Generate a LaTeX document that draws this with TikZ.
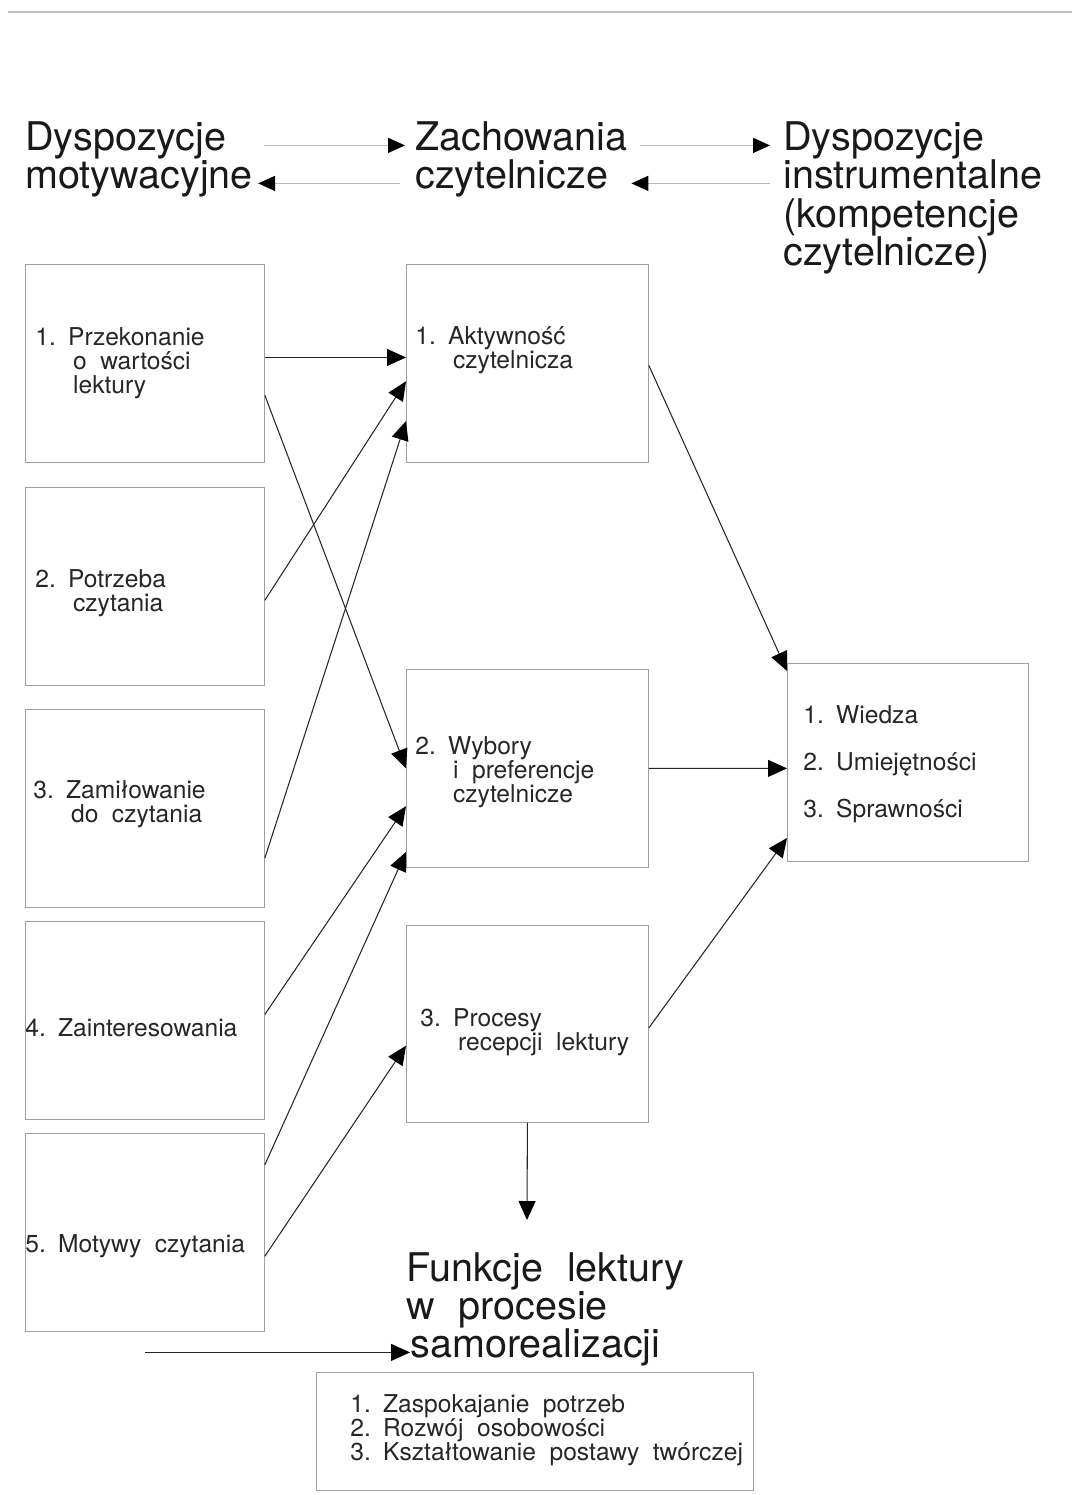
\documentclass[tikz,border=0pt]{standalone}
\usepackage{fontspec}
\setmainfont{TeX Gyre Heros}
\usetikzlibrary{calc}
\usetikzlibrary{arrows.meta}
\newcommand{\hangin}{\hspace*{21.5pt}}
\newcommand{\headfont}{\fontsize{22.5}{22}\selectfont\spaceskip=0.6em\relax}
\newcommand{\itemfont}{\fontsize{14}{13.6}\selectfont\spaceskip=0.55em\relax\lineskiplimit=-20pt\relax}
\tikzset{
    box/.style = {
        draw=gray!75,
        line width=0.5pt,
        anchor=north west,
        minimum height=3.96cm,
        inner sep=0pt,
    },
    leftbox/.style = {
        box,
        minimum width=4.78cm,
    },
    midbox/.style = {
        box,
        minimum width=4.84cm,
    },
    head/.style = {
        font=\headfont,
        anchor=base west,
        inner sep=0pt,
        text=black!90,
    },
    boxtext/.style = {
        font=\itemfont,
        anchor=base west,
        inner sep=0pt,
        align=left,
        text=black!85,
    },
    link/.style = {
        gray!30!black,
        line width=0.6pt,
        -{Triangle[length=3.8mm, width=3.4mm, black]},
    },
    headlink/.style = {
        gray!55,
        line width=0.8pt,
        -{Triangle[length=3.4mm, width=3mm, black]},
    },
}

\begin{document}
\begin{tikzpicture}[x=0.02cm, y=-0.02cm]
  \useasboundingbox (0,0) rectangle (1072,1495);
  \draw[gray!50, line width=0.6pt] (8,12) -- (1072,12);

  % Headings
  \node[head] (dm1) at (25,150) {Dyspozycje};
  \node[head] (dm2) at (25,188) {motywacyjne};
  \node[head] (zc1) at (415,150) {Zachowania};
  \node[head] (zc2) at (415,188) {czytelnicze};
  \node[head] (di1) at (783,150) {Dyspozycje};
  \node[head] (di2) at (783,188) {instrumentalne};
  \node[head] (di3) at (783,227) {(kompetencje};
  \node[head] (di4) at (783,265) {czytelnicze)};

  \draw[headlink] ([xshift=0.74cm]dm1.mid east) -- ([xshift=-0.2cm]zc1.mid west);
  \draw[headlink] ([xshift=-0.3cm]zc2.mid west) -- ([xshift=0.1cm]dm2.mid east);
  \draw[headlink] ([xshift=0.24cm]zc1.mid east) -- ([xshift=-0.26cm]di1.mid west);
  \draw[headlink] ([xshift=-0.26cm]di2.mid west) -- ([xshift=0.46cm]zc2.mid east);

  % Motivational dispositions (text nodes sit on their last line)
  \node[leftbox] (L1) at (25,264) {};
  \node[leftbox] (L2) at (25,487) {};
  \node[leftbox] (L3) at (25,709) {};
  \node[leftbox] (L4) at (25,921) {};
  \node[leftbox] (L5) at (25,1133) {};
  \node[boxtext] (L1t) at (35,393) {1.\hspace{7pt}Przekonanie\\\hangin o wartości\\\hangin lektury};
  \node[boxtext] (L2t) at (35,611) {2.\hspace{7pt}Potrzeba\\\hangin czytania};
  \node[boxtext] (L3t) at (33,822) {3.\hspace{7pt}Zamiłowanie\\\hangin do czytania};
  \node[boxtext] (L4t) at (25,1036) {4.\hspace{7pt}Zainteresowania};
  \node[boxtext] (L5t) at (25,1252) {5.\hspace{7pt}Motywy czytania};

  % Reading behaviour
  \node[midbox] (M1) at (406,264) {};
  \node[midbox] (M2) at (406,669) {};
  \node[midbox, minimum height=3.94cm] (M3) at (406,925) {};
  \node[boxtext] (M1t) at (415,368) {1.\hspace{7pt}Aktywność\\\hangin czytelnicza};
  \node[boxtext] (M2t) at (415,802) {2.\hspace{7pt}Wybory\\\hangin i preferencje\\\hangin czytelnicze};
  \node[boxtext] (M3t) at (420,1050) {3.\hspace{7pt}Procesy\\\hangin recepcji lektury};

  % Instrumental dispositions
  \node[box, minimum width=4.82cm] (R) at (787,663) {};
  \node[boxtext] (Rt) at (803,817) {1.\hspace{7pt}Wiedza\\[13pt]2.\hspace{7pt}Umiejętności\\[13pt]3.\hspace{7pt}Sprawności};

  % Functions of reading
  \node[head] (fl1) at (406,1281) {Funkcje lektury};
  \node[head] (fl2) at (406,1319) {w procesie};
  \node[head] (fl3) at (410,1357) {samorealizacji};
  \node[box, minimum width=8.74cm, minimum height=2.36cm] (B) at (316,1372) {};
  \node[boxtext] (Bt) at (350,1460) {1.\hspace{7pt}Zaspokajanie potrzeb\\2.\hspace{7pt}Rozwój osobowości\\3.\hspace{7pt}Kształtowanie postawy twórczej};

  % Connectors
  \draw[link] ($(L1.north east)!0.47!(L1.south east)$) -- ($(M1.north west)!0.47!(M1.south west)$);
  \draw[link] ($(L1.north east)!0.66!(L1.south east)$) -- ($(M2.north west)!0.5!(M2.south west)$);
  \draw[link] ($(L2.north east)!0.57!(L2.south east)$) -- ($(M1.north west)!0.59!(M1.south west)$);
  \draw[link] ($(L3.north east)!0.75!(L3.south east)$) -- ($(M1.north west)!0.79!(M1.south west)$);
  \draw[link] ($(L4.north east)!0.47!(L4.south east)$) -- ($(M2.north west)!0.69!(M2.south west)$);
  \draw[link] ($(L5.north east)!0.16!(L5.south east)$) -- ($(M2.north west)!0.92!(M2.south west)$);
  \draw[link] ($(L5.north east)!0.62!(L5.south east)$) -- ($(M3.north west)!0.61!(M3.south west)$);

  \draw[link] ($(M1.north east)!0.51!(M1.south east)$) -- ($(R.north west)!0.04!(R.south west)$);
  \draw[link] ($(M2.north east)!0.5!(M2.south east)$) -- ($(R.north west)!0.53!(R.south west)$);
  \draw[link] ($(M3.north east)!0.52!(M3.south east)$) -- ($(R.north west)!0.88!(R.south west)$);

  \coordinate (fdown) at (527,1220);
  \draw[link] (M3.south) -- (fdown);
  \coordinate (sfrom) at ($(fl3.mid west)+(-265,0)$);
  \draw[link] (sfrom) -- (fl3.mid west);
\end{tikzpicture}
\end{document}
